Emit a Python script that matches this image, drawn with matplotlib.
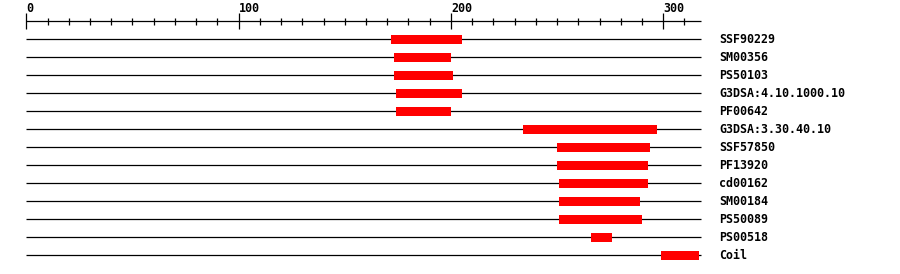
import matplotlib
matplotlib.use("Agg")
import matplotlib.pyplot as plt

# protein length and domain hits (start, end)
seq_len = 318
names = ["SSF90229", "SM00356", "PS50103", "G3DSA:4.10.1000.10", "PF00642",
         "G3DSA:3.30.40.10", "SSF57850", "PF13920", "cd00162", "SM00184",
         "PS50089", "PS00518", "Coil"]
starts = [172, 173, 173, 174, 174, 234, 250, 250, 251, 251, 251, 266, 299]
ends = [205, 200, 201, 205, 200, 297, 294, 293, 293, 289, 290, 276, 317]
major_ticks = [0, 100, 200, 300]

W, H = 900, 274
fig = plt.figure(figsize=(W / 100, H / 100), dpi=100)
ax = fig.add_axes([0, 0, 1, 1])
ax.axis("off")

# x in residues, y in pixels from the top
x0, scale = 26.3, 2.123
ax.set_xlim(-x0 / scale, (W - x0) / scale)
ax.set_ylim(H, 0)

lw = 0.9
font = dict(family="DejaVu Sans Mono", weight="bold", size=8.4)

# ruler
axis_y = 21
ax.hlines(axis_y, 0, seq_len, color="black", lw=lw)
for t in range(0, seq_len + 1, 10):
    if t in major_ticks:
        ax.vlines(t, 13, 29, color="black", lw=lw)
        ax.text(t, 12, str(t), ha="left", va="baseline", **font)
    else:
        ax.vlines(t, 18, 24.5, color="black", lw=lw)

# one row per hit
for i, (name, s, e) in enumerate(zip(names, starts, ends)):
    y = 39 + 18 * i
    ax.hlines(y, 0, seq_len, color="black", lw=lw, zorder=1)
    ax.barh(y, e - s, left=s, height=9, color="#ff0000", linewidth=0, zorder=3)
    ax.text((719 - x0) / scale, y + 0.5, name, ha="left", va="center", **font)

fig.savefig("out.png", dpi=100)
